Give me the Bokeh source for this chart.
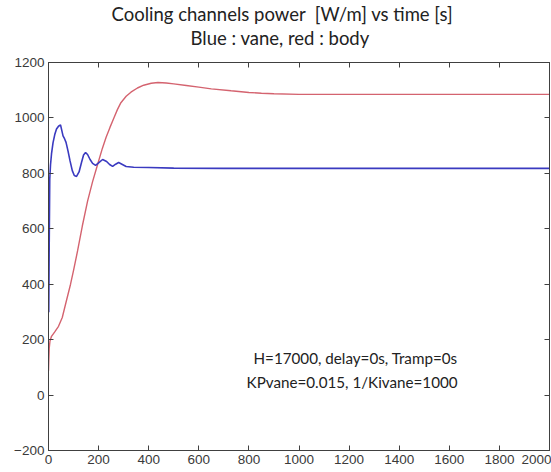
from bokeh.plotting import figure
from bokeh.models import Range1d, LinearAxis, Label, FixedTicker, Title
from bokeh.embed import file_html
from bokeh.resources import INLINE

# ---- data ----
title_line1 = "Cooling channels power \u00a0[W/m] vs time [s]"
title_line2 = "Blue : vane, red : body"
note_line1 = "H=17000, delay=0s, Tramp=0s"
note_line2 = "KPvane=0.015, 1/Kivane=1000"

x_ticks = [0, 200, 400, 600, 800, 1000, 1200, 1400, 1600, 1800, 2000]
y_ticks = [-200, 0, 200, 400, 600, 800, 1000, 1200]

vane_t = [0, 1, 3, 5, 8, 12, 18, 25, 32, 40, 48, 53, 58, 64, 70, 78, 86, 95, 103,
          112, 122, 132, 140, 148, 156, 166, 176, 188, 200, 216, 232, 244, 256,
          268, 280, 295, 310, 340, 400, 500, 700, 1000, 2000]
vane_p = [300, 300, 560, 780, 830, 870, 910, 940, 960, 970, 975, 955, 935, 925, 912,
          880, 845, 810, 792, 789, 805, 840, 866, 875, 868, 850, 836, 829, 838, 850,
          843, 832, 825, 833, 839, 832, 825, 822, 821, 819, 818, 818, 818]

body_t = [0, 1, 3, 6, 12, 25, 40, 55, 70, 88, 100, 116, 135, 156, 176, 196, 215,
          230, 245, 261, 275, 289, 310, 329, 355, 380, 410, 437, 470, 500, 550,
          600, 650, 729, 800, 850, 900, 1000, 1200, 2000]
body_p = [88, 120, 170, 195, 212, 228, 248, 280, 335, 400, 450, 520, 610, 700, 770,
          832, 890, 930, 965, 1000, 1030, 1055, 1078, 1093, 1108, 1118, 1125, 1128,
          1126, 1123, 1117, 1111, 1105, 1098, 1092, 1089, 1087, 1085, 1085, 1085]

# ---- figure ----
FONT = "Lato"
TICK_FONT = "Liberation Sans"
AXIS_COLOR = "#404040"
TEXT_COLOR = "#222222"

p = figure(width=551, height=472, output_backend="svg", toolbar_location=None,
           x_range=Range1d(0, 2000), y_range=Range1d(-200, 1200),
           min_border_left=48, min_border_right=2, min_border_top=61,
           min_border_bottom=22)
p.grid.visible = False
p.outline_line_color = AXIS_COLOR
p.outline_line_width = 1
p.background_fill_color = "white"
p.border_fill_color = "white"


def style_axis(ax, ticks, show_labels):
    ax.ticker = FixedTicker(ticks=ticks)
    ax.axis_line_color = AXIS_COLOR
    ax.major_tick_line_color = AXIS_COLOR
    ax.major_tick_in = 5
    ax.major_tick_out = 0
    ax.minor_tick_line_color = None
    if show_labels:
        ax.major_label_text_font = TICK_FONT
        ax.major_label_text_font_size = "13.5px"
        ax.major_label_text_color = "#3a3a3a"
        ax.major_label_standoff = 4
    else:
        ax.major_label_text_font_size = "1px"
        ax.major_label_text_color = None
        ax.major_label_standoff = 0


for ax in p.xaxis:
    style_axis(ax, x_ticks, True)
for ax in p.yaxis:
    style_axis(ax, y_ticks, True)

# box ticks on top and right (no labels)
top_ax = LinearAxis()
style_axis(top_ax, x_ticks, False)
p.add_layout(top_ax, "above")
right_ax = LinearAxis()
style_axis(right_ax, y_ticks, False)
p.add_layout(right_ax, "right")

# invisible spacer between frame and title
spacer = LinearAxis(ticker=FixedTicker(ticks=x_ticks), axis_line_color=None,
                    major_tick_line_color=None, minor_tick_line_color=None,
                    major_tick_in=0, major_tick_out=14,
                    major_label_text_color=None, major_label_text_font_size="1px",
                    major_label_standoff=0)
p.add_layout(spacer, "above")

p.line(body_t, body_p, line_color="#d4636f", line_width=1.4)
p.line(vane_t, vane_p, line_color="#3a3ac0", line_width=1.6)

# two-line title, nearest line first
for txt, off, so in [(title_line2, 142, 0), (title_line1, 63, 0)]:
    p.add_layout(Title(text=txt, align="left", offset=off, standoff=so,
                       text_font=FONT, text_font_size="18.5px", text_font_style="normal",
                       text_color=TEXT_COLOR), "above")

for txt, yy in [(note_line1, 134), (note_line2, 48)]:
    p.add_layout(Label(x=1633, y=yy, text=txt, text_font=FONT, text_font_size="15.2px",
                       text_color=TEXT_COLOR, text_align="right", text_baseline="middle"))

open("out.html", "w").write(file_html(p, INLINE))
